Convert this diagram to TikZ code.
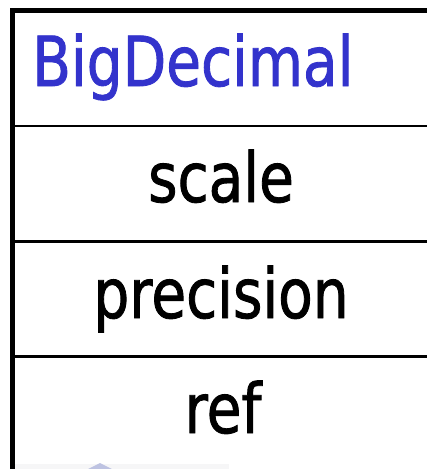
\documentclass[tikz,border=0pt]{standalone}
\usepackage{fontspec}
\newfontfamily\tahomalike[FakeStretch=0.82,FakeBold=1.2]{DejaVu Sans}
\definecolor{titleblue}{RGB}{51,51,204}
\definecolor{stripgray}{RGB}{246,246,247}
\definecolor{fadeblue}{RGB}{190,195,226}
\begin{document}
\begin{tikzpicture}[x=1pt,y=-1pt,
  border/.style={line width=5pt,black},
  rowline/.style={line width=2.2pt,black},
  field/.style={inner sep=0pt,anchor=base,font=\tahomalike\fontsize{69}{78}\selectfont,text=black},
  title/.style={inner sep=0pt,anchor=base west,font=\tahomalike\fontsize{69}{78}\selectfont,text=titleblue}]
\useasboundingbox (0,0) rectangle (427,469);
\fill[white] (0,0) rectangle (427,469);
% faint bottom strip (fragment of next element)
\fill[stripgray] (14,463.5) rectangle (229,469);
\fill[fadeblue] (88,469) -- (100,463) -- (112,469) -- cycle;
% row separators
\coordinate (r1l) at (12,126); \coordinate (r1r) at (427,126);
\coordinate (r2l) at (12,241.5); \coordinate (r2r) at (427,241.5);
\coordinate (r3l) at (12,356.5); \coordinate (r3r) at (427,356.5);
\draw[rowline] (r1l) -- (r1r);
\draw[rowline] (r2l) -- (r2r);
\draw[rowline] (r3l) -- (r3r);
% outer borders
\coordinate (tl) at (12,10); \coordinate (tr) at (427,10); \coordinate (bl) at (12,469);
\draw[border] (tr) -- (tl) -- (bl);
% texts
\node[title] (name) at (32,86) {BigDecimal};
\node[field] (scale) at (221,202) {scale};
\node[field] (precision) at (221,318) {precision};
\node[field] (ref) at (223,433) {ref};
\end{tikzpicture}
\end{document}
